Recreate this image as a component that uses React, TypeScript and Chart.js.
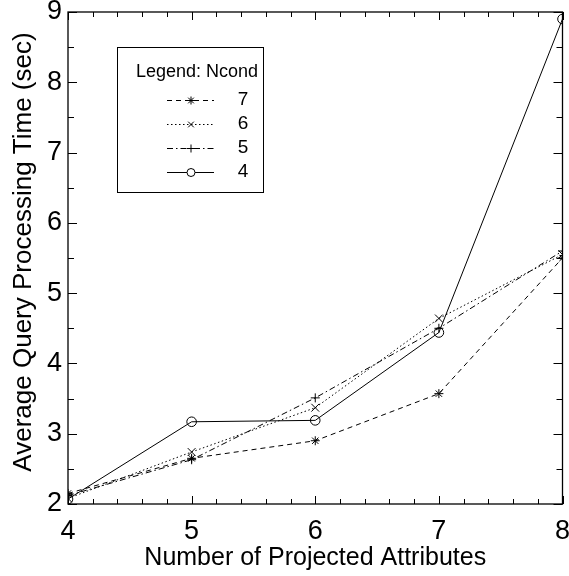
import React, { useEffect, useRef } from "react";
import { Chart, registerables } from "chart.js";

Chart.register(...registerables);

// Number of projected attributes on the x axis
const attributes = [4, 5, 6, 7, 8];

// Average query processing time (sec) for each Ncond value
const ncond7 = [2.15, 2.65, 2.9, 3.57, 5.5];
const ncond6 = [2.08, 2.74, 3.37, 4.64, 5.55];
const ncond5 = [2.12, 2.63, 3.51, 4.5, 5.6];
const ncond4 = [2.07, 3.17, 3.19, 4.44, 8.9];

const seriesLabels = ["7", "6", "5", "4"];
const legendTitle = "Legend: Ncond";
const xTitle = "Number of Projected Attributes";
const yTitle = "Average Query Processing Time (sec)";

const FONT = "'Liberation Sans', Arial, Helvetica, sans-serif";

// Marker glyphs for the legend rows, same shapes as the plotted points
function drawMarker(ctx: CanvasRenderingContext2D, style: string, x: number, y: number, r: number) {
  ctx.save();
  ctx.strokeStyle = "#000";
  ctx.lineWidth = 1;
  ctx.setLineDash([]);
  ctx.beginPath();
  if (style === "circle") {
    ctx.fillStyle = "#fff";
    ctx.arc(x, y, r, 0, Math.PI * 2);
    ctx.fill();
  } else {
    const lines: number[] = [];
    if (style === "cross" || style === "star") lines.push(0, Math.PI / 2);
    if (style === "crossRot" || style === "star") lines.push(Math.PI / 4, (3 * Math.PI) / 4);
    for (const a of lines) {
      ctx.moveTo(x - Math.cos(a) * r, y - Math.sin(a) * r);
      ctx.lineTo(x + Math.cos(a) * r, y + Math.sin(a) * r);
    }
  }
  ctx.stroke();
  ctx.restore();
}

// Frame with inward ticks on all four sides, plus the axis titles
const framePlugin = {
  id: "frameTicks",
  afterDatasetsDraw(chart: any) {
    const { ctx, chartArea } = chart;
    const { left, right, top, bottom } = chartArea;
    const xs = chart.scales.x;
    const ys = chart.scales.y;
    ctx.save();
    ctx.strokeStyle = "#000";
    ctx.lineWidth = 1.3;
    ctx.strokeRect(left, top, right - left, bottom - top);
    ctx.lineWidth = 1;
    ctx.beginPath();
    for (let v = 4; v <= 8.0001; v += 0.2) {
      const isMajor = Math.abs(v - Math.round(v)) < 1e-6;
      const len = isMajor ? 8 : 5;
      const px = Math.round(xs.getPixelForValue(v)) + 0.5;
      ctx.moveTo(px, bottom);
      ctx.lineTo(px, bottom - len);
      ctx.moveTo(px, top);
      ctx.lineTo(px, top + len);
    }
    for (let v = 2; v <= 9.0001; v += 0.5) {
      const isMajor = Math.abs(v - Math.round(v)) < 1e-6;
      const len = isMajor ? 9 : 6;
      const py = Math.round(ys.getPixelForValue(v)) + 0.5;
      ctx.moveTo(left, py);
      ctx.lineTo(left + len, py);
      ctx.moveTo(right, py);
      ctx.lineTo(right - len, py);
    }
    ctx.stroke();

    ctx.fillStyle = "#000";
    ctx.textAlign = "center";
    ctx.textBaseline = "middle";
    ctx.font = `25px ${FONT}`;
    ctx.fillText(xTitle, (left + right) / 2, 558);
    ctx.translate(24, 252);
    ctx.rotate(-Math.PI / 2);
    ctx.font = `26px ${FONT}`;
    ctx.fillText(yTitle, 0, 0);
    ctx.restore();
  },
};

// Boxed legend listing each series' line style and marker
const legendBoxPlugin = {
  id: "legendBox",
  afterDatasetsDraw(chart: any) {
    const { ctx } = chart;
    const bx = 117;
    const by = 47;
    const bw = 146;
    const bh = 145;
    ctx.save();
    ctx.fillStyle = "#fff";
    ctx.fillRect(bx, by, bw, bh);
    ctx.strokeStyle = "#000";
    ctx.lineWidth = 1;
    ctx.strokeRect(bx + 0.5, by + 0.5, bw, bh);
    ctx.fillStyle = "#000";
    ctx.font = `18px ${FONT}`;
    ctx.textBaseline = "middle";
    ctx.textAlign = "left";
    ctx.fillText(legendTitle, 136, 72);
    const rowY = [100, 124, 148, 172];
    chart.data.datasets.forEach((ds: any, i: number) => {
      const y = rowY[i];
      ctx.save();
      ctx.strokeStyle = "#000";
      ctx.lineWidth = 1;
      ctx.setLineDash(ds.borderDash || []);
      ctx.beginPath();
      ctx.moveTo(167, y + 0.5);
      ctx.lineTo(214, y + 0.5);
      ctx.stroke();
      ctx.restore();
      drawMarker(ctx, ds.pointStyle, 191, y + 0.5, 4);
      ctx.fillStyle = "#000";
      ctx.font = `19px ${FONT}`;
      ctx.textAlign = "center";
      ctx.fillText(seriesLabels[i], 243, y);
    });
    ctx.restore();
  },
};

export default function App() {
  const canvasRef = useRef<HTMLCanvasElement | null>(null);

  useEffect(() => {
    document.body.style.margin = "0";
    const canvas = canvasRef.current;
    if (!canvas) return;
    const common = {
      borderColor: "#000",
      borderWidth: 1,
      pointBorderColor: "#000",
      pointBackgroundColor: "rgba(0,0,0,0)",
      pointBorderWidth: 1,
      tension: 0,
      fill: false,
    };
    const chart = new Chart(canvas, {
      type: "line",
      data: {
        datasets: [
          {
            ...common,
            label: seriesLabels[0],
            data: attributes.map((x, i) => ({ x, y: ncond7[i] })),
            borderDash: [5, 4],
            pointStyle: "star",
            pointRadius: 4.5,
          },
          {
            ...common,
            label: seriesLabels[1],
            data: attributes.map((x, i) => ({ x, y: ncond6[i] })),
            borderDash: [1.5, 2.5],
            pointStyle: "crossRot",
            pointRadius: 5.5,
          },
          {
            ...common,
            label: seriesLabels[2],
            data: attributes.map((x, i) => ({ x, y: ncond5[i] })),
            borderDash: [6, 3, 1.5, 3],
            pointStyle: "cross",
            pointRadius: 4.5,
          },
          {
            ...common,
            label: seriesLabels[3],
            data: attributes.map((x, i) => ({ x, y: ncond4[i] })),
            borderDash: [],
            pointStyle: "circle",
            pointRadius: 4.8,
          },
        ] as any,
      },
      options: {
        animation: false,
        responsive: false,
        devicePixelRatio: 1,
        layout: { padding: { top: 12, right: 6, left: 0, bottom: 0 } },
        plugins: {
          legend: { display: false },
          tooltip: { enabled: false },
        },
        scales: {
          x: {
            type: "linear",
            min: 4,
            max: 8,
            grid: { display: false, drawTicks: false },
            border: { display: false },
            ticks: {
              stepSize: 1,
              color: "#000",
              padding: 11,
              font: { family: FONT, size: 27 },
            },
            afterFit(scale: any) {
              scale.height = 72;
              scale.paddingLeft = 0;
              scale.paddingRight = 0;
            },
          },
          y: {
            type: "linear",
            min: 2,
            max: 9,
            grid: { display: false, drawTicks: false },
            border: { display: false },
            ticks: {
              stepSize: 1,
              color: "#000",
              padding: 6,
              font: { family: FONT, size: 27 },
            },
            afterFit(scale: any) {
              scale.width = 68;
              scale.paddingTop = 0;
              scale.paddingBottom = 0;
            },
          },
        },
      } as any,
      plugins: [framePlugin, legendBoxPlugin],
    });
    return () => chart.destroy();
  }, []);

  return (
    <div style={{ width: 569, height: 576, background: "#fff" }}>
      <canvas ref={canvasRef} width={569} height={576} />
    </div>
  );
}
